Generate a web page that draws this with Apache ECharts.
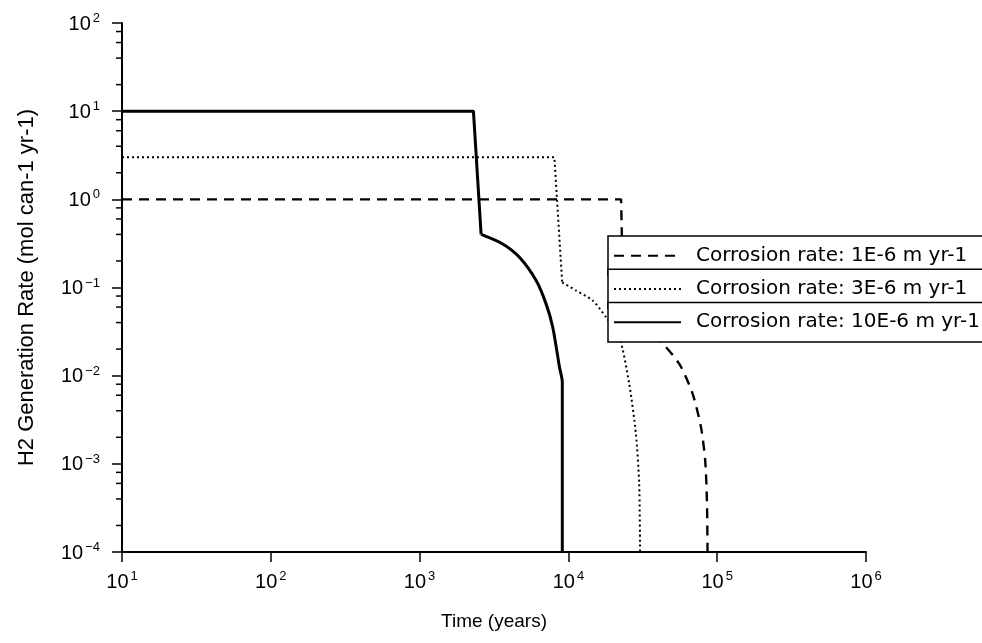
<!DOCTYPE html>
<html>
<head>
<meta charset="utf-8">
<script src="https://cdn.jsdelivr.net/npm/echarts@6/dist/echarts.min.js"></script>
<style>
  html, body { margin: 0; padding: 0; background: #fff; }
  #chart { width: 982px; height: 643px; }
</style>
</head>
<body>
<div id="chart"></div>
<script>
// series names
const names = [
  'Corrosion rate: 1E-6 m yr-1',
  'Corrosion rate: 3E-6 m yr-1',
  'Corrosion rate: 10E-6 m yr-1'
]

// 1E-6 m/yr (dashed); kink = index where the curved tail starts
const timeDashed = [10, 22600, 23500, 39700, 55600, 68300, 77800, 83000, 85300, 86100]
const rateDashed = [1, 1, 0.043, 0.0262, 0.0136, 0.00624, 0.00261, 0.0011, 0.000386, 0.0001]
const kinkDashed = 2

// 3E-6 m/yr (dotted)
const timeDotted = [10, 8050, 9080, 11270, 14560, 17900, 22000, 25600, 28400, 29900, 30300]
const rateDotted = [3, 3, 0.1146, 0.0923, 0.0711, 0.046, 0.0273, 0.00817, 0.00221, 0.0006, 0.0001]
const kinkDotted = 2

// 10E-6 m/yr (solid)
const timeSolid = [10, 2300, 2590, 3620, 4690, 6070, 7080, 7850, 8710, 9100, 9100]
const rateSolid = [10, 10, 0.40, 0.312, 0.220, 0.120, 0.0652, 0.0354, 0.0125, 0.0085, 0.0001]
const kinkSolid = 2

// tick labels (exponents of 10)
const xTickExponents = ['1', '2', '3', '4', '5', '6']
const yTickExponents = ['\u22124', '\u22123', '\u22122', '\u22121', '0', '1', '2']

// minor ticks on the y axis
const yMinorTicks = [
  2e-4, 4e-4, 6e-4, 8e-4,
  2e-3, 4e-3, 6e-3, 8e-3,
  2e-2, 4e-2, 6e-2, 8e-2,
  0.2, 0.4, 0.6, 0.8,
  2, 4, 6, 8,
  20, 40, 60, 80
]

const pairs = (xs, ys) => xs.map((x, i) => [x, ys[i]])

const FONT = '"Liberation Sans", Arial, sans-serif'
const richPow = {
  b: { fontFamily: FONT, fontSize: 20, color: '#000', verticalAlign: 'bottom', lineHeight: 22 },
  s: { fontFamily: FONT, fontSize: 13, color: '#000', verticalAlign: 'bottom', lineHeight: 22, padding: [0, 0, 9, 2] }
}

const styles = [
  { color: '#000', width: 2.4, type: [10, 7] },
  { color: '#000', width: 2, type: [2, 3] },
  { color: '#000', width: 3 }
]

// each curve = straight step part + smooth tail, sharing one legend name
const makeSeries = (i, xs, ys, kink) => [
  {
    name: names[i],
    type: 'line',
    data: pairs(xs.slice(0, kink + 1), ys.slice(0, kink + 1)),
    symbol: 'none',
    lineStyle: styles[i],
    itemStyle: { color: '#000' },
    z: 3
  },
  {
    name: names[i],
    type: 'line',
    data: pairs(xs.slice(kink), ys.slice(kink)),
    symbol: 'none',
    smooth: 0.25,
    lineStyle: styles[i],
    itemStyle: { color: '#000' },
    z: 3
  }
]

const chart = echarts.init(document.getElementById('chart'))

const legendBase = {
  left: 608,
  orient: 'horizontal',
  padding: [9.65, 60, 9.65, 5],
  itemWidth: 67,
  itemHeight: 14,
  selectedMode: false,
  backgroundColor: '#fff',
  borderColor: '#000',
  borderWidth: 1.5,
  borderRadius: 0,
  itemStyle: { opacity: 0 },
  textStyle: {
    fontFamily: '"DejaVu Sans", sans-serif',
    fontSize: 20,
    color: '#000',
    lineHeight: 14,
    padding: [0, 0, 0, 10]
  }
}

const option = {
  animation: false,
  backgroundColor: '#fff',
  grid: { left: 122, right: 116, top: 23, bottom: 91 },
  legend: [
    Object.assign({}, legendBase, { top: 236, data: [names[0]] }),
    Object.assign({}, legendBase, { top: 269.3, data: [names[1]] }),
    Object.assign({}, legendBase, { top: 302.6, data: [names[2]] })
  ],
  xAxis: {
    type: 'log',
    logBase: 10,
    min: 10,
    max: 1e6,
    splitNumber: 5,
    name: 'Time (years)',
    nameLocation: 'middle',
    nameGap: 60,
    nameTextStyle: { fontFamily: FONT, fontSize: 19, color: '#000' },
    axisLine: { lineStyle: { color: '#000', width: 2 } },
    axisTick: { show: true, inside: false, length: 10, lineStyle: { color: '#000', width: 1.5 } },
    minorTick: { show: false },
    splitLine: { show: false },
    axisLabel: {
      margin: 18,
      formatter: v => '{b|10}{s|' + xTickExponents[Math.round(Math.log10(v)) - 1] + '}',
      rich: richPow
    }
  },
  yAxis: {
    type: 'log',
    logBase: 10,
    min: 1e-4,
    max: 100,
    splitNumber: 6,
    name: 'H2 Generation Rate (mol can-1 yr-1)',
    nameLocation: 'middle',
    nameGap: 84,
    nameTextStyle: { fontFamily: FONT, fontSize: 22, color: '#000' },
    axisLine: { lineStyle: { color: '#000', width: 2 } },
    axisTick: { show: true, inside: false, length: 10, lineStyle: { color: '#000', width: 1.5 } },
    minorTick: { show: false },
    splitLine: { show: false },
    axisLabel: {
      margin: 22,
      formatter: v => '{b|10}{s|' + yTickExponents[Math.round(Math.log10(v)) + 4] + '}',
      rich: richPow
    }
  },
  series: [
    ...makeSeries(0, timeDashed, rateDashed, kinkDashed),
    ...makeSeries(1, timeDotted, rateDotted, kinkDotted),
    ...makeSeries(2, timeSolid, rateSolid, kinkSolid),
    {
      // minor ticks of the y axis, placed through the axis scale
      type: 'custom',
      silent: true,
      clip: false,
      data: yMinorTicks.map(v => [10, v]),
      renderItem: (params, api) => {
        const p = api.coord([api.value(0), api.value(1)])
        return {
          type: 'line',
          shape: { x1: p[0] - 6, y1: p[1], x2: p[0], y2: p[1] },
          style: { stroke: '#000', lineWidth: 1.5 }
        }
      },
      z: 4
    }
  ]
}

chart.setOption(option)
</script>
</body>
</html>
